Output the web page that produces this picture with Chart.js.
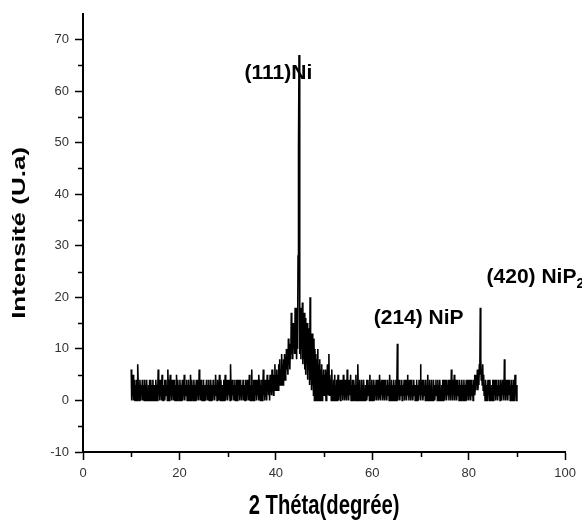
<!DOCTYPE html>
<html><head><meta charset="utf-8">
<script src="https://cdn.jsdelivr.net/npm/chart.js@4.4.1/dist/chart.umd.min.js"></script>
<style>html,body{margin:0;padding:0;background:#fff}#wrap{width:582px;height:524px;position:relative}</style>
</head><body><div id="wrap"><canvas id="c"></canvas></div>
<script>
// 2θ sampling of the scan (degrees)
const scanStart = 10;
const scanStep = 0.1;

// Intensity (U.a), one row per degree
const intensity10to30 = [
6,0,3,1,5,0,2,4,0,3, 1,4,0,2,7,1,3,0,4,2, 0,3,1,4,0,2,3,0,4,1, 3,0,4,1,2,0,3,1,4,0,
2,4,0,3,1,4,0,2,3,1, 0,4,1,3,0,2,6,1,3,0, 4,1,3,0,5,2,0,3,1,4, 0,2,4,1,3,0,6,1,4,0,
3,5,1,2,0,4,1,3,0,4, 2,0,3,1,5,0,2,4,1,3, 0,4,1,3,0,2,4,0,3,1, 5,0,2,3,1,4,0,3,1,4,
0,3,1,5,0,2,4,1,3,0, 4,1,3,0,2,4,0,3,1,4, 0,6,1,3,0,4,2,0,3,1, 4,0,2,3,1,0,4,1,3,0,
2,4,0,3,1,4,0,2,3,0, 4,1,3,0,2,5,1,3,0,4, 1,3,0,5,2,0,4,1,3,0, 3,1,4,0,2,5,0,3,1,4];
const intensity30to50 = [
0,3,1,4,2,0,7,1,3,0, 4,1,3,0,2,4,0,3,1,4, 0,2,4,1,3,0,4,1,2,0, 3,1,4,0,2,3,0,4,1,3,
0,4,1,3,0,5,2,0,3,1, 6,0,3,1,4,0,2,4,1,3, 0,4,1,3,0,5,2,4,0,3, 1,4,0,2,6,1,3,0,4,1,
3,0,5,2,4,1,3,0,5,2, 4,1,6,2,4,1,5,2,7,2, 5,2,6,3,5,2,7,3,8,4, 6,3,9,4,7,3,8,5,9,4,
7,5,10,6,9,5,12,7,10,6, 11,8,17,9,13,8,15,10,14,9, 18,9,15,8,18,10,28,49,67,30, 9,18,8,16,10,19,7,15,8,17,
6,16,5,14,7,15,4,13,6,14, 3,20,4,12,2,13,3,11,1,12, 0,10,2,9,0,8,1,10,0,7, 0,8,1,6,0,7,0,5,1,6];
const intensity50to70 = [
1,5,2,6,0,4,2,7,1,4, 9,1,5,2,4,0,6,1,3,0, 4,1,5,0,3,1,4,0,2,5, 0,3,1,4,0,2,4,1,3,0,
5,1,3,0,4,1,2,0,6,1, 3,0,4,1,2,5,0,3,1,4, 0,2,4,1,3,0,5,1,3,0, 7,1,3,0,4,1,2,0,4,1,
3,0,4,1,2,0,3,1,4,0, 2,4,1,3,0,5,1,3,0,4, 1,3,0,4,2,0,3,1,4,0, 3,1,4,0,2,5,1,3,0,4,
1,3,0,4,1,2,0,4,1,3, 0,2,4,1,3,0,5,1,3,0, 4,1,3,0,2,4,0,3,1,4, 0,3,11,0,3,1,4,0,2,3,
1,4,0,3,1,2,4,0,3,1, 4,0,2,5,1,3,0,4,1,3, 0,4,1,3,0,2,4,1,3,0, 3,1,4,0,2,3,0,4,1,3];
const intensity70to90 = [
7,0,3,1,4,0,2,4,1,3, 0,4,1,3,0,5,1,3,0,4, 1,3,0,4,1,2,0,4,1,3, 0,2,4,1,3,0,4,1,3,0,
4,1,2,0,3,1,4,0,2,4, 0,3,1,4,0,2,3,1,4,0, 3,1,4,0,6,1,3,0,4,1, 5,0,3,1,4,0,2,4,1,3,
0,4,1,3,0,2,4,1,3,0, 4,1,3,0,2,4,0,3,1,4, 0,3,1,4,0,2,4,1,3,0, 4,2,5,1,3,2,5,3,6,2,
4,3,7,5,18,8,4,6,3,7, 2,5,1,3,0,4,1,3,0,2, 4,1,3,0,4,1,2,0,3,1, 4,0,2,4,1,3,0,4,1,3,
0,2,4,1,3,0,4,1,3,0, 4,1,3,0,8,1,3,0,4,1, 3,0,4,1,2,4,0,3,1,4, 0,3,1,4,0,2,5,1,3,0,
3];

const xTicksRange = [0, 100];
const yTicksRange = [-10, 75];

const peakNames = ['(111)Ni', '(214) NiP', '(420) NiP'];
const peakSubscripts = ['', '', '2'];
const peakLabelAngle = [33.5, 60.3, 83.7];
const peakLabelIntensity = [63.5, 15.9, 23.9];

const xTitle = '2 Théta(degrée)';
const yTitle = 'Intensité (U.a)';

const intensity = [].concat(intensity10to30, intensity30to50, intensity50to70, intensity70to90);
const points = intensity.map((v, i) => ({ x: +(scanStart + i * scanStep).toFixed(2), y: v }));

const tickFont = { family: '"Liberation Sans Narrow", "Liberation Sans", Arial, sans-serif', size: 13 };

const overlay = {
  id: 'overlay',
  afterDraw(chart) {
    const { ctx, chartArea, scales: { x, y } } = chart;
    ctx.save();
    ctx.strokeStyle = '#000';
    ctx.lineWidth = 1.5;
    ctx.beginPath();
    for (let v = xTicksRange[0] + 10; v < xTicksRange[1]; v += 20) {
      const px = Math.round(x.getPixelForValue(v)) + 0.5;
      ctx.moveTo(px, chartArea.bottom); ctx.lineTo(px, chartArea.bottom + 5);
    }
    for (let v = yTicksRange[0] + 5; v < yTicksRange[1]; v += 10) {
      const py = Math.round(y.getPixelForValue(v)) + 0.5;
      ctx.moveTo(chartArea.left, py); ctx.lineTo(chartArea.left - 5, py);
    }
    ctx.stroke();

    // peak labels
    ctx.fillStyle = '#000';
    ctx.textBaseline = 'middle';
    ctx.textAlign = 'left';
    peakNames.forEach((name, i) => {
      const px = x.getPixelForValue(peakLabelAngle[i]);
      const py = y.getPixelForValue(peakLabelIntensity[i]);
      ctx.font = 'bold 21px "Liberation Sans", Arial, sans-serif';
      ctx.fillText(name, px, py);
      if (peakSubscripts[i]) {
        const w = ctx.measureText(name).width;
        ctx.font = 'bold 14px "Liberation Sans", Arial, sans-serif';
        ctx.fillText(peakSubscripts[i], px + w, py + 7);
      }
    });

    // axis titles (condensed, as in the picture)
    ctx.textAlign = 'center';
    ctx.textBaseline = 'middle';
    ctx.font = 'bold 27px "Liberation Sans", Arial, sans-serif';
    ctx.save();
    ctx.translate((chartArea.left + chartArea.right) / 2, chart.height - 17);
    ctx.scale(0.75, 1);
    ctx.fillText(xTitle, 0, 0);
    ctx.restore();

    ctx.font = 'bold 26px "Liberation Sans", Arial, sans-serif';
    ctx.save();
    ctx.translate(19.5, (chartArea.top + chartArea.bottom) / 2);
    ctx.rotate(-Math.PI / 2);
    ctx.scale(1, 0.72);
    ctx.fillText(yTitle, 0, 0);
    ctx.restore();
    ctx.restore();
  }
};

new Chart(document.getElementById('c'), {
  type: 'line',
  data: {
    datasets: [{
      data: points,
      borderColor: '#000',
      borderWidth: 1.6,
      pointRadius: 0,
      tension: 0,
      fill: false
    }]
  },
  options: {
    responsive: true,
    maintainAspectRatio: false,
    animation: false,
    events: [],
    layout: { padding: { top: 6, right: 15, left: 0, bottom: 0 } },
    plugins: { legend: { display: false }, tooltip: { enabled: false } },
    scales: {
      x: {
        type: 'linear',
        position: 'bottom',
        min: xTicksRange[0], max: xTicksRange[1],
        afterFit: s => { s.height = 72; },
        ticks: { stepSize: 20, color: '#333', font: tickFont, padding: 6, maxRotation: 0 },
        grid: { drawOnChartArea: false, drawTicks: true, tickLength: 8, tickColor: '#000', tickWidth: 1.5 },
        border: { color: '#000', width: 2 }
      },
      y: {
        type: 'linear',
        min: yTicksRange[0], max: yTicksRange[1],
        afterFit: s => { s.width = 83; },
        afterBuildTicks: s => { s.ticks = s.ticks.filter(t => t.value % 10 === 0); },
        ticks: { stepSize: 10, color: '#333', font: tickFont, padding: 6 },
        grid: { drawOnChartArea: false, drawTicks: true, tickLength: 8, tickColor: '#000', tickWidth: 1.5 },
        border: { color: '#000', width: 2 }
      }
    }
  },
  plugins: [overlay]
});
</script>
</body></html>
